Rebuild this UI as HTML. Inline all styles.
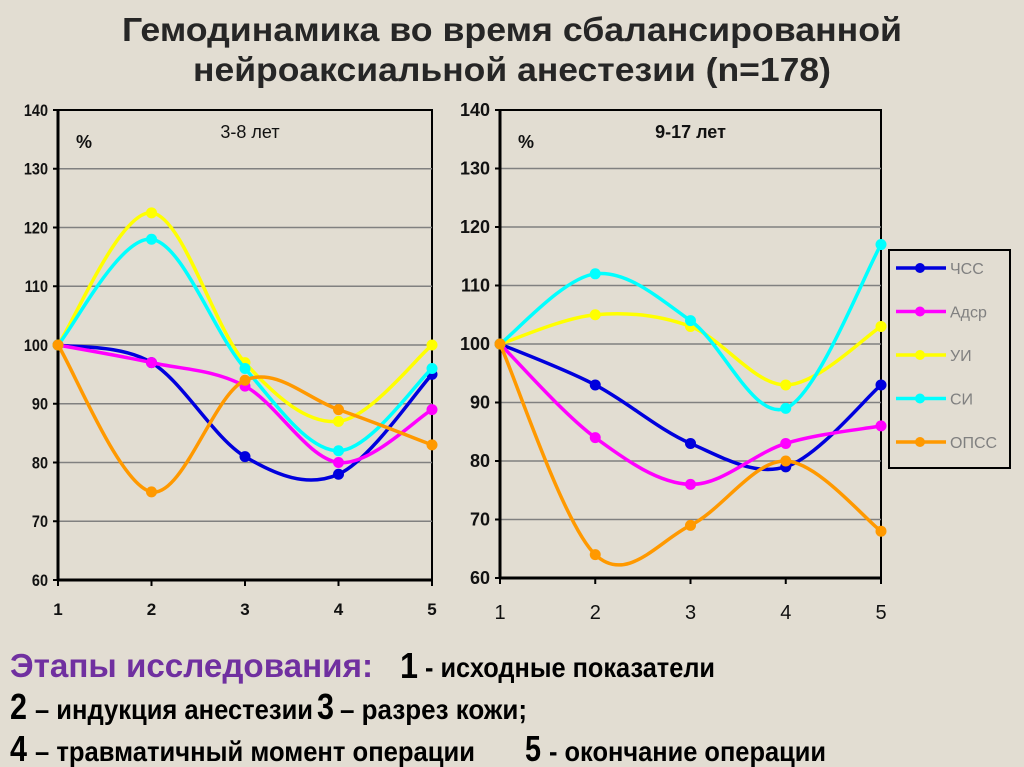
<!DOCTYPE html>
<html><head><meta charset="utf-8"><style>
body{margin:0;background:#e2ddd2;}
svg{display:block}
</style></head><body>
<svg id="s" width="1024" height="767" viewBox="0 0 1024 767" xmlns="http://www.w3.org/2000/svg" font-family="Liberation Sans, sans-serif">
<rect width="1024" height="767" fill="#e2ddd2"/>
<g font-weight="bold" fill="#262626" font-size="33">
<text x="122" y="41" textLength="780" lengthAdjust="spacingAndGlyphs">Гемодинамика во время сбалансированной</text>
<text x="193" y="81" textLength="638" lengthAdjust="spacingAndGlyphs">нейроаксиальной анестезии (n=178)</text>
</g>
<g id="charts"></g>
<g font-weight="bold">
<text x="10" y="677" font-size="33" fill="#7030a0" textLength="363" lengthAdjust="spacingAndGlyphs">Этапы исследования:</text>
<text x="400" y="678" font-size="36" fill="#000" textLength="18" lengthAdjust="spacingAndGlyphs">1</text>
<text x="425" y="677" font-size="28" fill="#000" textLength="290" lengthAdjust="spacingAndGlyphs">- исходные показатели</text>
<text x="10" y="719" font-size="36" fill="#000" textLength="17" lengthAdjust="spacingAndGlyphs">2</text>
<text x="35" y="719" font-size="28" fill="#000" textLength="278" lengthAdjust="spacingAndGlyphs">– индукция анестезии</text>
<text x="317" y="719" font-size="36" fill="#000" textLength="17" lengthAdjust="spacingAndGlyphs">3</text>
<text x="340" y="719" font-size="28" fill="#000" textLength="187" lengthAdjust="spacingAndGlyphs">– разрез кожи;</text>
<text x="10" y="761" font-size="36" fill="#000" textLength="17" lengthAdjust="spacingAndGlyphs">4</text>
<text x="35" y="761" font-size="28" fill="#000" textLength="440" lengthAdjust="spacingAndGlyphs">– травматичный момент операции</text>
<text x="525" y="761" font-size="36" fill="#000" textLength="16" lengthAdjust="spacingAndGlyphs">5</text>
<text x="549" y="761" font-size="28" fill="#000" textLength="277" lengthAdjust="spacingAndGlyphs">- окончание операции</text>
</g>
</svg>
<script>
const NS="http://www.w3.org/2000/svg";
const g=document.getElementById('charts');
function el(t,a,txt){const e=document.createElementNS(NS,t);for(const k in a)e.setAttribute(k,a[k]);if(txt!==undefined)e.textContent=txt;g.appendChild(e);return e;}
const colors=['#0000dd','#ff00ff','#ffff00','#00ffff','#ff9900'];
function chart(x0,x1,yTop,yBot,data,title,tBold,yfs,xfs,xly,ylx,ysx){
  const Y=v=>yBot-(v-60)/80*(yBot-yTop);
  const X=i=>x0+i*(x1-x0)/4;
  el('rect',{x:x0,y:yTop,width:x1-x0,height:yBot-yTop,fill:'none',stroke:'#000','stroke-width':2});
  for(let v=60;v<=140;v+=10){
    if(v>60&&v<140)el('line',{x1:x0,x2:x1,y1:Y(v),y2:Y(v),stroke:'#808080','stroke-width':1.5});
    el('line',{x1:x0-5,x2:x0,y1:Y(v),y2:Y(v),stroke:'#000','stroke-width':2});
    el('text',{x:ylx,y:Y(v)+6,'font-size':yfs,'text-anchor':'end','font-weight':'bold',fill:'#111',transform:ysx?`translate(${ylx} 0) scale(${ysx} 1) translate(${-ylx} 0)`:''},v);
  }
  el('line',{x1:x0,x2:x1,y1:yBot,y2:yBot,stroke:'#000','stroke-width':3});
  el('line',{x1:x0,x2:x0,y1:yTop,y2:yBot,stroke:'#000','stroke-width':3});
  for(let i=0;i<5;i++){
    el('line',{x1:X(i),x2:X(i),y1:yBot,y2:yBot+6,stroke:'#000','stroke-width':2});
    el('text',{x:X(i),y:xly,'font-size':xfs,'text-anchor':'middle','font-weight':tBold?'normal':'bold',fill:'#111'},i+1);
  }
  el('text',{x:x0+18,y:yTop+38,'font-size':18,'font-weight':'bold',fill:'#111'},'%');
  el('text',{x:(x0+x1)/2+(tBold?0:5),y:yTop+28,'font-size':18,'font-weight':tBold?'bold':'normal',fill:'#111','text-anchor':'middle'},title);
  data.forEach((d,k)=>{
    const p=d.map((v,i)=>[X(i),Y(v)]);
    let s='M'+p[0][0]+','+p[0][1];
    for(let i=0;i<4;i++){
      const a=p[Math.max(i-1,0)],b=p[i],c=p[i+1],e=p[Math.min(i+2,4)];
      const c1=[b[0]+(c[0]-a[0])/6,b[1]+(c[1]-a[1])/6],c2=[c[0]-(e[0]-b[0])/6,c[1]-(e[1]-b[1])/6];
      s+=' C'+c1+' '+c2+' '+c;
    }
    el('path',{d:s,fill:'none',stroke:colors[k],'stroke-width':3.5});
    p.forEach(q=>el('circle',{cx:q[0],cy:q[1],r:5.5,fill:colors[k]}));
  });
}
chart(58,432,110,580,[[100,97,81,78,95],[100,97,93,80,89],[100,122.5,97,87,100],[100,118,96,82,96],[100,75,94,89,83]],'3-8 лет',false,17,17,615,48,0.85);
chart(500,881,110,578,[[100,93,83,79,93],[100,84,76,83,86],[100,105,103,93,103],[100,112,104,89,117],[100,64,69,80,68]],'9-17 лет',true,18,20,619,490,0);
el('rect',{x:889,y:250,width:121,height:218,fill:'none',stroke:'#000','stroke-width':2});
const names=['ЧСС','Адср','УИ','СИ','ОПСС'];
names.forEach((n,k)=>{const y=268+k*43.5;
  el('line',{x1:896,x2:946,y1:y,y2:y,stroke:colors[k],'stroke-width':3.5});
  el('circle',{cx:920,cy:y,r:5,fill:colors[k]});
  el('text',{x:950,y:y+6,'font-size':16,fill:'#808080'},n);
});
</script>
</body></html>
